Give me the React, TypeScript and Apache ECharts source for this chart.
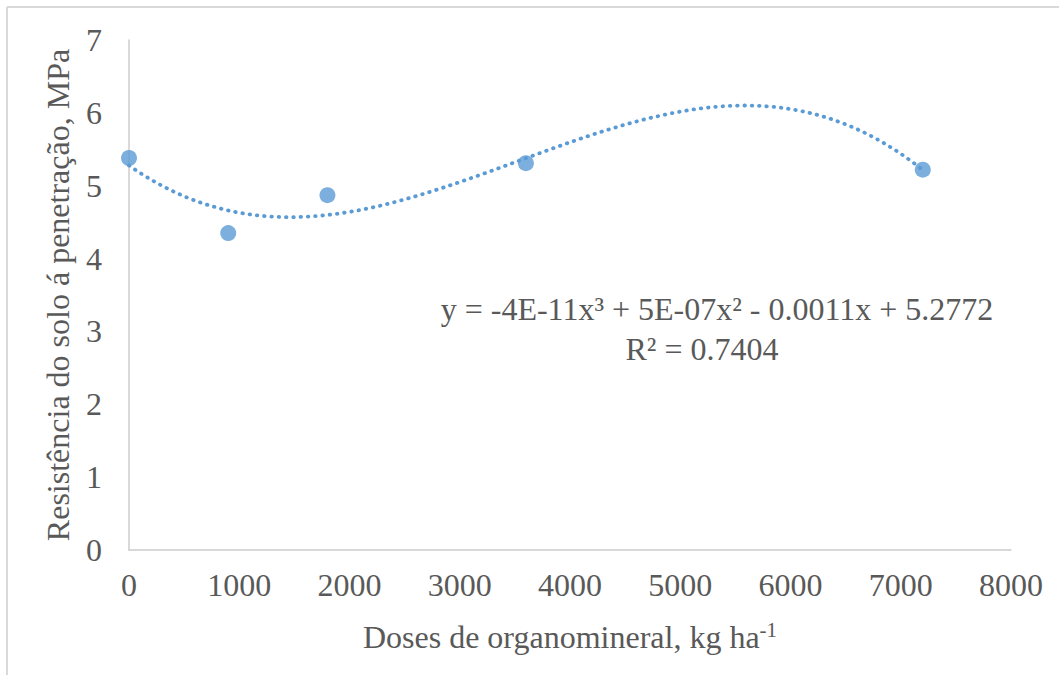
import React, { useEffect, useRef } from "react";
import * as echarts from "echarts";

// Doses of organomineral fertiliser (kg/ha) and measured soil penetration resistance (MPa)
const doses = [0, 900, 1800, 3600, 7200];
const resistance = [5.38, 4.35, 4.87, 5.31, 5.22];

const xTicks = { min: 0, max: 8000, interval: 1000 };
const yTicks = { min: 0, max: 7, interval: 1 };

const equationText = "y = -4E-11x³ + 5E-07x² - 0.0011x + 5.2772";
const r2Text = "R² = 0.7404";

const BLUE = "#5B9BD5";
const TEXT = "#595959";
const FONT = "'Liberation Serif', 'Times New Roman', serif";
const FS = 32;

// Least-squares cubic through the measured points (x scaled to thousands for stability)
function fitCubic(xs: number[], ys: number[]): number[] {
  const n = 4;
  const A: number[][] = Array.from({ length: n }, () => new Array(n + 1).fill(0));
  xs.forEach((xr, k) => {
    const x = xr / 1000;
    const p = [1, x, x * x, x * x * x];
    for (let i = 0; i < n; i++) {
      for (let j = 0; j < n; j++) A[i][j] += p[i] * p[j];
      A[i][n] += p[i] * ys[k];
    }
  });
  for (let c = 0; c < n; c++) {
    let piv = c;
    for (let r = c + 1; r < n; r++) if (Math.abs(A[r][c]) > Math.abs(A[piv][c])) piv = r;
    [A[c], A[piv]] = [A[piv], A[c]];
    for (let r = 0; r < n; r++) {
      if (r === c) continue;
      const f = A[r][c] / A[c][c];
      for (let k = c; k <= n; k++) A[r][k] -= f * A[c][k];
    }
  }
  return A.map((row, i) => row[n] / row[i]);
}

function trendPoints(): number[][] {
  const coef = fitCubic(doses, resistance);
  const pts: number[][] = [];
  const x0 = Math.min(...doses);
  const x1 = Math.max(...doses);
  const steps = 240;
  for (let i = 0; i <= steps; i++) {
    const xr = x0 + ((x1 - x0) * i) / steps;
    const x = xr / 1000;
    pts.push([xr, coef[0] + coef[1] * x + coef[2] * x * x + coef[3] * x * x * x]);
  }
  return pts;
}

export default function App() {
  const ref = useRef<HTMLDivElement>(null);

  useEffect(() => {
    if (!ref.current) return;
    const chart = echarts.init(ref.current, undefined, { renderer: "svg" });
    chart.setOption({
      animation: false,
      backgroundColor: "#ffffff",
      textStyle: { fontFamily: FONT },
      grid: { left: 129, right: 48, top: 40, bottom: 125, containLabel: false },
      xAxis: {
        type: "value",
        min: xTicks.min,
        max: xTicks.max,
        interval: xTicks.interval,
        splitLine: { show: false },
        axisTick: { show: false },
        axisLine: { lineStyle: { color: "#CCCCCC", width: 1.5 } },
        axisLabel: {
          color: TEXT,
          fontSize: FS,
          fontFamily: FONT,
          margin: 19,
          formatter: (v: number) => String(v),
        },
        name: "{main|Doses de organomineral, kg ha}{sup|-1}",
        nameLocation: "middle",
        nameGap: 69,
        nameTextStyle: {
          rich: {
            main: { color: TEXT, fontSize: FS, fontFamily: FONT, lineHeight: 36 },
            sup: {
              color: TEXT,
              fontSize: 21,
              fontFamily: FONT,
              lineHeight: 36,
              verticalAlign: "top",
              padding: [0, 0, 15, 0],
            },
          },
        },
      },
      yAxis: {
        type: "value",
        min: yTicks.min,
        max: yTicks.max,
        interval: yTicks.interval,
        splitLine: { show: false },
        axisTick: { show: false },
        axisLine: { show: true, lineStyle: { color: "#CCCCCC", width: 1.5 } },
        axisLabel: { color: TEXT, fontSize: FS, fontFamily: FONT, margin: 27 },
        name: "Resistência do solo á penetração, MPa",
        nameLocation: "middle",
        nameGap: 55,
        nameTextStyle: { color: TEXT, fontSize: FS, fontFamily: FONT },
      },
      series: [
        {
          type: "line",
          data: trendPoints(),
          showSymbol: false,
          symbol: "none",
          smooth: false,
          lineStyle: { color: BLUE, width: 3.8, type: [0.5, 6.8], cap: "round" },
          z: 2,
          silent: true,
        },
        {
          type: "scatter",
          data: doses.map((d, i) => [d, resistance[i]]),
          symbol: "circle",
          symbolSize: 16,
          itemStyle: { color: BLUE },
          z: 3,
        },
      ],
      graphic: [
        {
          type: "line",
          shape: { x1: 7, y1: 7, x2: 1059, y2: 7 },
          style: { stroke: "#D9D9D9", lineWidth: 2 },
        },
        {
          type: "line",
          shape: { x1: 7, y1: 7, x2: 7, y2: 675 },
          style: { stroke: "#D9D9D9", lineWidth: 2 },
        },
        {
          type: "text",
          x: 717,
          y: 309,
          style: {
            text: equationText,
            fill: TEXT,
            font: `${FS}px ${FONT}`,
            textAlign: "center",
            textVerticalAlign: "middle",
          },
        },
        {
          type: "text",
          x: 702,
          y: 349,
          style: {
            text: r2Text,
            fill: TEXT,
            font: `${FS}px ${FONT}`,
            textAlign: "center",
            textVerticalAlign: "middle",
          },
        },
      ],
    });
    return () => chart.dispose();
  }, []);

  return (
    <div
      ref={ref}
      style={{ position: "fixed", left: 0, top: 0, width: 1059, height: 675 }}
    />
  );
}
